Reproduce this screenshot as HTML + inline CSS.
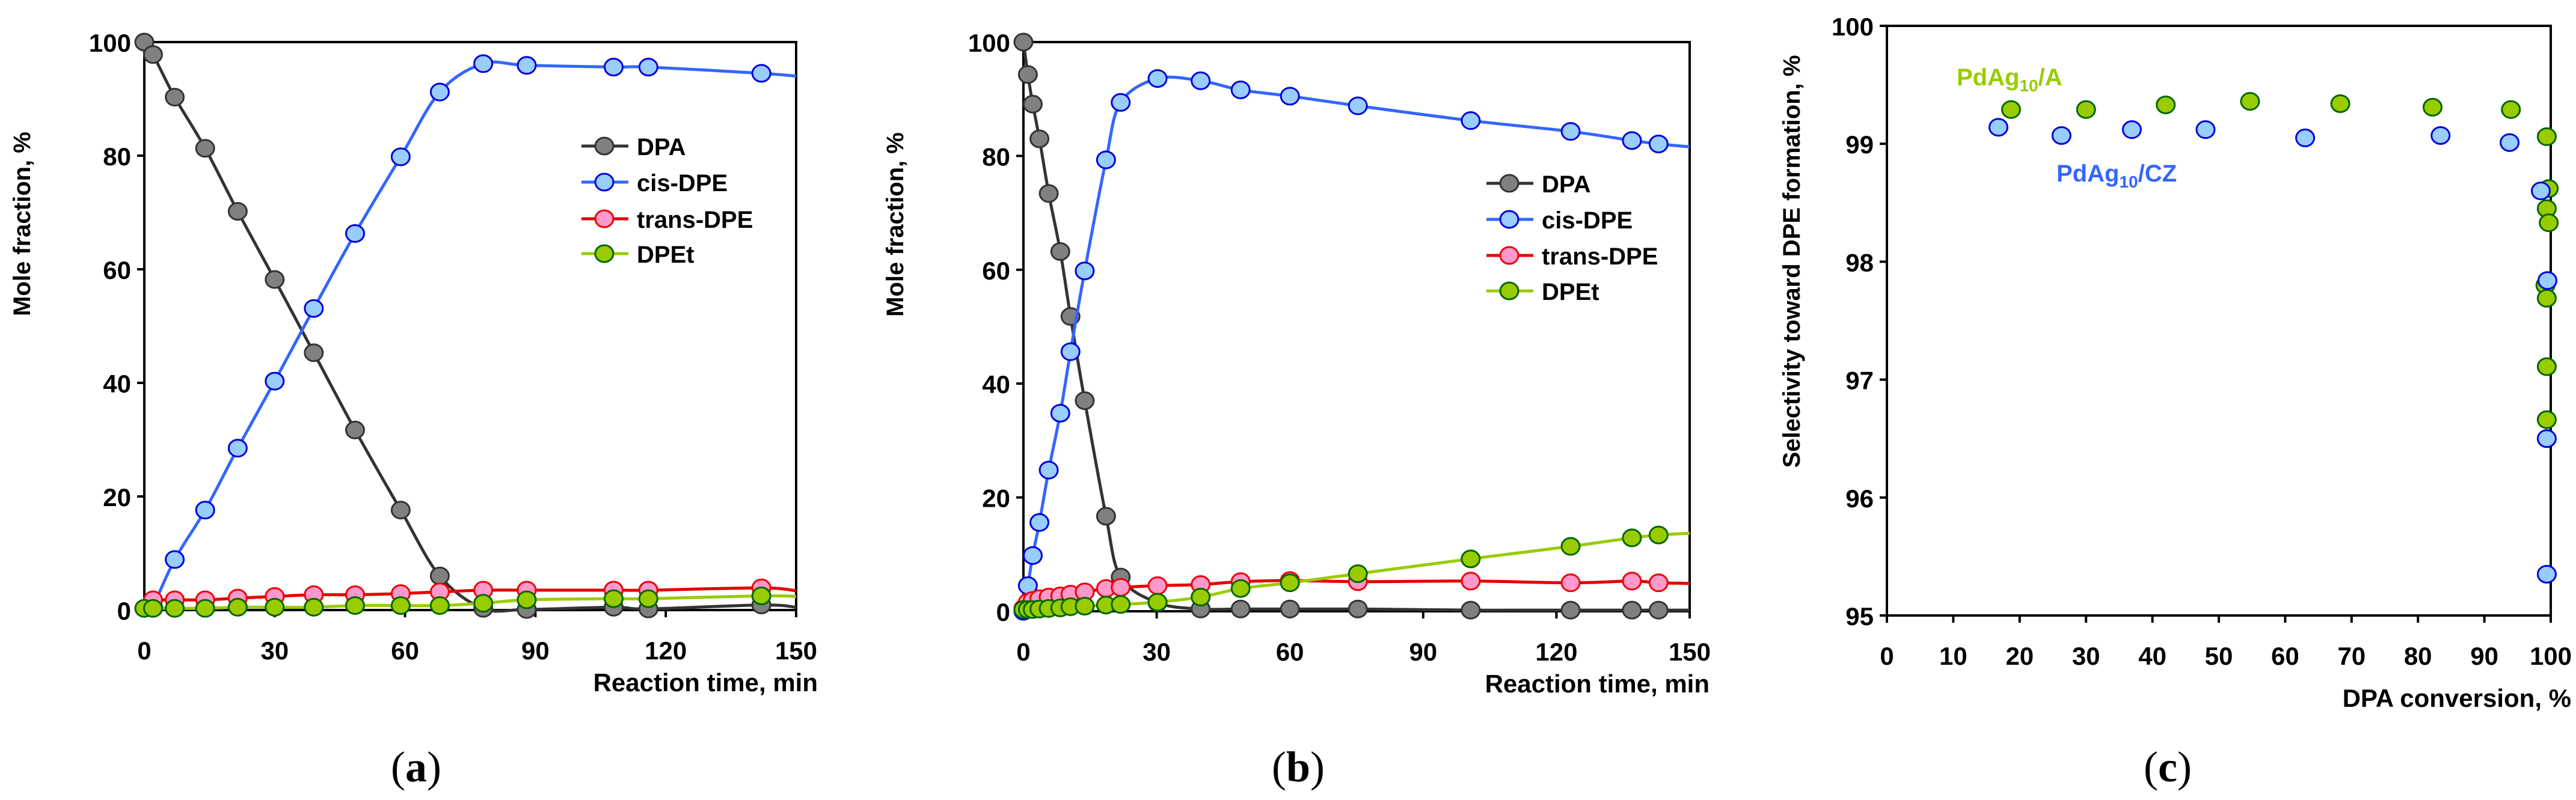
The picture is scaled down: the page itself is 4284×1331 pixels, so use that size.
<!DOCTYPE html>
<html><head><meta charset="utf-8"><style>
html,body{margin:0;padding:0;background:#fff}
svg{display:block}
text{font-family:"Liberation Sans",Arial,sans-serif;font-weight:bold;fill:#000}
.cap{font-family:"Liberation Serif",serif;font-weight:normal}
</style></head><body>
<svg id="fig" width="4284" height="1331" viewBox="0 0 4284 1331" xmlns="http://www.w3.org/2000/svg"></svg>
<script>
// ---- Panel (a) data ----
const aTime=[0,2,7,14,21.5,30,39,48.5,59,68,78,88,108,116,142];
const aDPA=[100,97.8,90.3,81.3,70.2,58.2,45.3,31.7,17.6,6,0.3,0.1,0.5,0.2,0.9];
const aCisTime=[2,7,14,21.5,30,39,48.5,59,68,78,88,108,116,142];
const aCis=[0.5,8.9,17.6,28.5,40.3,53.1,66.3,79.8,91.2,96.2,95.9,95.6,95.6,94.5];
const aTransTime=[2,7,14,21.5,30,39,48.5,59,68,78,88,108,116,142];
const aTrans=[1.8,1.8,1.8,2.1,2.4,2.7,2.7,2.9,3.2,3.5,3.5,3.5,3.5,3.9];
const aDPEt=[0.3,0.3,0.3,0.3,0.5,0.5,0.5,0.8,0.8,0.8,1.2,1.8,2,2,2.5];
const aEnd={dpa:0.5,cis:94,trans:3.4,dpet:2.4};
// ---- Panel (b) data ----
const bTime=[0,1,2.1,3.6,5.7,8.3,10.6,13.8,18.6,21.9,30.2,39.9,48.9,60,75.3,100.7,123.2,137,143];
const bDPA=[100,94.3,89.1,83,73.4,63.2,51.8,37,16.7,6,1.5,0.4,0.4,0.4,0.4,0.2,0.2,0.2,0.2];
const bCis=[0,4.5,9.8,15.6,24.8,34.8,45.6,59.8,79.3,89.4,93.6,93.2,91.6,90.5,88.8,86.2,84.3,82.7,82.1];
const bTrans=[0.5,1.6,1.9,2.2,2.5,2.7,3,3.4,4,4.2,4.5,4.7,5.2,5.4,5.2,5.3,5,5.3,5];
const bDPEt=[0.3,0.3,0.3,0.4,0.5,0.6,0.8,0.9,1.1,1.2,1.6,2.5,4,5,6.6,9.2,11.4,12.9,13.4];
const bEnd={dpa:0.2,cis:81.6,trans:4.9,dpet:13.7};
// ---- Panel (c) data ----
const cAConv=[18.7,30,42,54.7,68.3,82.2,94,99.4,99.7,99.4,99.7,99.2,99.4,99.4,99.4];
const cASel=[99.29,99.29,99.33,99.36,99.34,99.31,99.29,99.06,98.62,98.45,98.33,97.8,97.69,97.11,96.66];
const cCZConv=[16.8,26.3,36.9,48,63,83.4,93.8,98.5,99.5,99.4,99.4];
const cCZSel=[99.14,99.07,99.12,99.12,99.05,99.07,99.01,98.6,97.84,96.5,95.35];
const xTicksTime=[0,30,60,90,120,150];
const yTicksFrac=[0,20,40,60,80,100];
const xTicksConv=[0,10,20,30,40,50,60,70,80,90,100];
const yTicksSel=[95,96,97,98,99,100];

const NS="http://www.w3.org/2000/svg";
const fig=document.getElementById('fig');
function el(tag,attrs,parent){const e=document.createElementNS(NS,tag);for(const k in attrs)e.setAttribute(k,attrs[k]);(parent||fig).appendChild(e);return e;}
const C={dpa:{f:'#808080',s:'#333333',l:'#333333'},cis:{f:'#99ccff',s:'#0000dd',l:'#3366ff'},trans:{f:'#ff99cc',s:'#ee0000',l:'#e60000'},dpet:{f:'#99cc00',s:'#006600',l:'#99cc00'}};

function smooth(pts){
  if(pts.length<2)return '';
  let d='M'+pts[0][0]+','+pts[0][1];
  for(let i=0;i<pts.length-1;i++){
    const p0=pts[i-1]||pts[i],p1=pts[i],p2=pts[i+1],p3=pts[i+2]||p2;
    const t=0.5/3;
    d+=' C'+(p1[0]+(p2[0]-p0[0])*t)+','+(p1[1]+(p2[1]-p0[1])*t)+' '+(p2[0]-(p3[0]-p1[0])*t)+','+(p2[1]-(p3[1]-p1[1])*t)+' '+p2[0]+','+p2[1];
  }
  return d;
}

function axes(g,X,Y,x0,x1,y0,y1,xt,yt,name,fs){
  const fr=el('rect',{x:x0,y:y1,width:x1-x0,height:y0-y1,fill:'none',stroke:'#000','stroke-width':4},g);
  
  
  xt.forEach(v=>{
    const t=el('line',{x1:X(v),x2:X(v),y1:y0,y2:y0+12,stroke:'#000','stroke-width':4},g);
    
    
    const l=el('text',{x:X(v),y:y0+82,'text-anchor':'middle','font-size':fs},g);l.textContent=v;
    
    
  });
  yt.forEach(v=>{
    const t=el('line',{x1:x0-12,x2:x0,y1:Y(v),y2:Y(v),stroke:'#000','stroke-width':4},g);
    
    
    const l=el('text',{x:x0-22,y:Y(v)+16,'text-anchor':'end','font-size':fs},g);l.textContent=v;
    
    
  });
}
function series(g,X,Y,xs,ys,end,key,name,xmax){
  const pts=xs.map((x,i)=>[X(x),Y(ys[i])]);
  const lp=pts.slice(); lp.push([X(xmax),Y(end)]);
  const p=el('path',{d:smooth(lp),fill:'none',stroke:C[key].l,'stroke-width':5},g);
  
  
  pts.forEach(q=>{
    const m=el('ellipse',{cx:q[0],cy:q[1],rx:15,ry:14,fill:C[key].f,stroke:C[key].s,'stroke-width':3},g);
    
    
  });
}
function legend(g,x,ys,name){
  const keys=['dpa','cis','trans','dpet'],lab=['DPA','cis-DPE','trans-DPE','DPEt'];
  keys.forEach((k,i)=>{
    const ln=el('line',{x1:x,x2:x+78,y1:ys[i],y2:ys[i],stroke:C[k].l,'stroke-width':5},g);
    
    
    const m=el('ellipse',{cx:x+38,cy:ys[i],rx:15,ry:14,fill:C[k].f,stroke:C[k].s,'stroke-width':3},g);
    
    
    const t=el('text',{x:x+92,y:ys[i]+15,'font-size':40},g);t.textContent=lab[i];
    
    
  });
}
function panelTime(name,x0,x1,y0,y1,data,legX,legY,ytX,capX,xtRight){
  const g=el('g',{});
  
  
  const X=v=>x0+(v/150)*(x1-x0), Y=v=>y0-(v/100)*(y0-y1);
  axes(g,X,Y,x0,x1,y0,y1,xTicksTime,yTicksFrac,name,42);
  series(g,X,Y,data.t,data.dpa,data.end.dpa,'dpa',name,150);
  series(g,X,Y,data.tc,data.cis,data.end.cis,'cis',name,150);
  series(g,X,Y,data.tt,data.trans,data.end.trans,'trans',name,150);
  series(g,X,Y,data.t,data.dpet,data.end.dpet,'dpet',name,150);
  // redraw DPA/DPEt markers near zero order handled by draw sequence
  legend(g,legX,legY,name);
  const yt=el('text',{x:ytX,y:(y0+y1)/2-170,'text-anchor':'middle','font-size':40,transform:'rotate(-90 '+ytX+' '+((y0+y1)/2-170)+')'},g);
  yt.textContent='Mole fraction, %';
  
  
  const xt=el('text',{x:xtRight,y:y0+135,'text-anchor':'end','font-size':42},g);
  xt.textContent='Reaction time, min';
  
  
  const cp=el('text',{x:capX,y:1300,'text-anchor':'middle','font-size':72,class:'cap'},g);
  cp.innerHTML='(<tspan font-weight="bold">'+name+'</tspan>)';
  
  
}
panelTime('a',240,1324,1015,70,{t:aTime,tc:aCisTime,tt:aTransTime,dpa:aDPA,cis:aCis,trans:aTrans,dpet:aDPEt,end:aEnd},967,[243,303,364,422],50,692,1360);
panelTime('b',1702,2810,1017,70,{t:bTime,tc:bTime,tt:bTime,dpa:bDPA,cis:bCis,trans:bTrans,dpet:bDPEt,end:bEnd},2472,[305,365,425,484],1502,2159,2843);

// Panel c
(function(){
  const g=el('g',{});
  
  
  const x0=3138,x1=4242,y0=1024,y1=43;
  const X=v=>x0+(v/100)*(x1-x0), Y=v=>y0-((v-95)/5)*(y0-y1);
  axes(g,X,Y,x0,x1,y0,y1,xTicksConv,yTicksSel,'c',42);
  cAConv.forEach((v,i)=>{
    const m=el('ellipse',{cx:X(v),cy:Y(cASel[i]),rx:15,ry:14,fill:C.dpet.f,stroke:C.dpet.s,'stroke-width':3},g);
    
    
  });
  cCZConv.forEach((v,i)=>{
    const m=el('ellipse',{cx:X(v),cy:Y(cCZSel[i]),rx:15,ry:14,fill:C.cis.f,stroke:C.cis.s,'stroke-width':3},g);
    
    
  });
  const la=el('text',{x:3254,y:142,'font-size':40,style:'fill:#99cc00'},g);
  la.innerHTML='PdAg<tspan font-size="28" dy="10">10</tspan><tspan dy="-10">/A</tspan>';
  
  
  const lc=el('text',{x:3420,y:302,'font-size':40,style:'fill:#3366ff'},g);
  lc.innerHTML='PdAg<tspan font-size="28" dy="10">10</tspan><tspan dy="-10">/CZ</tspan>';
  
  
  const cy=435;
  const yt=el('text',{x:2993,y:cy,'text-anchor':'middle','font-size':40,transform:'rotate(-90 2993 '+cy+')'},g);
  yt.textContent='Selectivity toward DPE formation, %';
  
  
  const xt=el('text',{x:4276,y:1176,'text-anchor':'end','font-size':42},g);
  xt.textContent='DPA conversion, %';
  
  
  const cp=el('text',{x:3605,y:1300,'text-anchor':'middle','font-size':72,class:'cap'},g);
  cp.innerHTML='(<tspan font-weight="bold">c</tspan>)';
  
  
})();
</script>
</body></html>
